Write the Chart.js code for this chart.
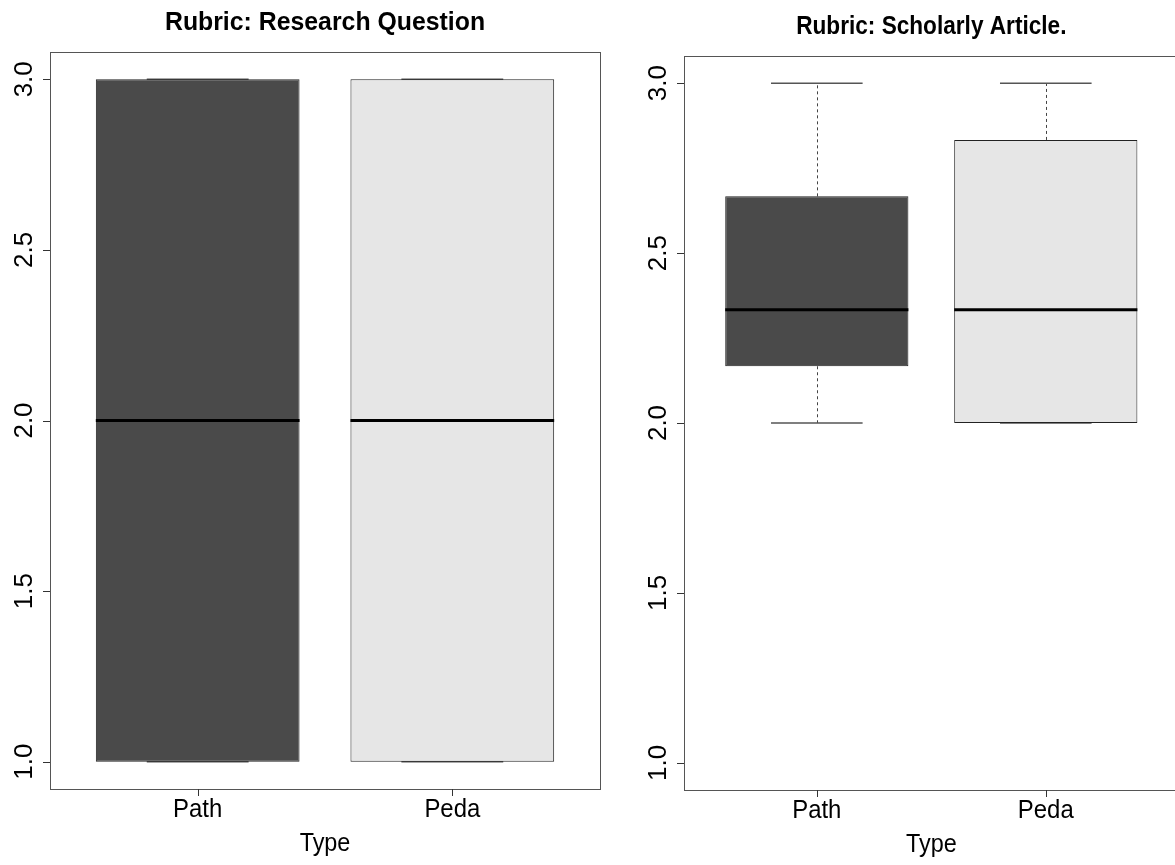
<!DOCTYPE html>
<html><head><meta charset="utf-8">
<script src="https://cdn.jsdelivr.net/npm/chart.js@4.4.0/dist/chart.umd.min.js"></script>
<style>
html,body{margin:0;padding:0;background:#fff;overflow:hidden;width:1175px;height:865px;position:relative;}
#c1{position:absolute;left:0;top:0;}
#c2{position:absolute;left:640px;top:0;}
</style></head><body>
<canvas id="c1" width="640" height="865"></canvas>
<canvas id="c2" width="560" height="865"></canvas>
<script>
// ---- data ----
const categories = ['Path', 'Peda'];
const yTickValues = [1.0, 1.5, 2.0, 2.5, 3.0];
const yTickLabels = ['1.0', '1.5', '2.0', '2.5', '3.0'];

// Rubric: Research Question
const rqMin = [1, 1];
const rqQ1  = [1, 1];
const rqMed = [2, 2];
const rqQ3  = [3, 3];
const rqMax = [3, 3];

// Rubric: Scholarly Article.
const saMin = [2, 2];
const saQ1  = [2.167, 2];
const saMed = [2.333, 2.333];
const saQ3  = [2.667, 2.833];
const saMax = [3, 3];

const boxColors = ['#4a4a4a', '#e6e6e6'];

// ---- helpers ----
function condText(ctx, text, x, y, font, sx) {
  ctx.save();
  ctx.translate(x, y);
  ctx.scale(sx, 1);
  ctx.font = font;
  ctx.fillStyle = '#000';
  ctx.textAlign = 'center';
  ctx.textBaseline = 'alphabetic';
  ctx.fillText(text, 0, 0);
  ctx.restore();
}

function boxGeom(chart, opts, i) {
  const ys = chart.scales.y;
  const bar = chart.getDatasetMeta(0).data[i];
  return {
    cx: bar.x, w: bar.width,
    pMin: ys.getPixelForValue(opts.min[i]),
    pQ1: ys.getPixelForValue(opts.q1[i]),
    pMed: ys.getPixelForValue(opts.med[i]),
    pQ3: ys.getPixelForValue(opts.q3[i]),
    pMax: ys.getPixelForValue(opts.max[i])
  };
}

const rBoxPlugin = {
  id: 'rbox',
  beforeDraw(chart) {
    const ctx = chart.ctx;
    ctx.save();
    ctx.fillStyle = '#fff';
    ctx.fillRect(0, 0, chart.width, chart.height);
    ctx.restore();
  },
  beforeDatasetsDraw(chart, args, opts) {
    const ctx = chart.ctx;
    categories.forEach((c, i) => {
      const g = boxGeom(chart, opts, i);
      ctx.save();
      ctx.strokeStyle = '#444';
      ctx.lineWidth = 1;
      ctx.setLineDash([3, 3]);
      const wx = Math.round(g.cx) + 0.5;
      if (opts.q3[i] < opts.max[i]) {
        ctx.beginPath(); ctx.moveTo(wx, g.pQ3); ctx.lineTo(wx, g.pMax); ctx.stroke();
      }
      if (opts.q1[i] > opts.min[i]) {
        ctx.beginPath(); ctx.moveTo(wx, g.pQ1); ctx.lineTo(wx, g.pMin); ctx.stroke();
      }
      ctx.setLineDash([]);
      ctx.strokeStyle = '#555';
      ctx.lineWidth = 1.5;
      ctx.beginPath();
      ctx.moveTo(g.cx - g.w / 4, g.pMax); ctx.lineTo(g.cx + g.w / 4, g.pMax);
      ctx.moveTo(g.cx - g.w / 4, g.pMin); ctx.lineTo(g.cx + g.w / 4, g.pMin);
      ctx.stroke();
      ctx.restore();
    });
  },
  afterDatasetsDraw(chart, args, opts) {
    const ctx = chart.ctx;
    categories.forEach((c, i) => {
      const g = boxGeom(chart, opts, i);
      ctx.save();
      ctx.strokeStyle = '#000';
      ctx.lineWidth = 3;
      ctx.beginPath();
      ctx.moveTo(g.cx - g.w / 2, g.pMed); ctx.lineTo(g.cx + g.w / 2, g.pMed);
      ctx.stroke();
      ctx.restore();
    });
  },
  afterDraw(chart, args, opts) {
    const ctx = chart.ctx;
    const a = chart.chartArea;
    const ys = chart.scales.y, xs = chart.scales.x;
    ctx.save();
    // frame
    ctx.strokeStyle = '#555';
    ctx.lineWidth = 1;
    ctx.strokeRect(Math.round(a.left) + 0.5, Math.round(a.top) + 0.5,
                   Math.round(a.right - a.left), Math.round(a.bottom - a.top));
    // y ticks
    ctx.strokeStyle = '#333';
    yTickValues.forEach((v, i) => {
      const py = Math.round(ys.getPixelForValue(v)) + 0.5;
      ctx.beginPath(); ctx.moveTo(a.left - 7, py); ctx.lineTo(a.left, py); ctx.stroke();
      ctx.save();
      ctx.translate(a.left - 18, ys.getPixelForValue(v));
      ctx.rotate(-Math.PI / 2);
      ctx.font = '26px "Liberation Sans", Arial, sans-serif';
      ctx.fillStyle = '#000';
      ctx.textAlign = 'center';
      ctx.textBaseline = 'alphabetic';
      ctx.fillText(yTickLabels[i], 0, 0);
      ctx.restore();
    });
    // x ticks
    categories.forEach((c, i) => {
      const px = Math.round(xs.getPixelForValue(i + 1)) + 0.5;
      ctx.beginPath(); ctx.moveTo(px, a.bottom); ctx.lineTo(px, a.bottom + 7); ctx.stroke();
      condText(ctx, c, xs.getPixelForValue(i + 1), a.bottom + 28,
               '26px "Liberation Sans", Arial, sans-serif', 0.92);
    });
    // axis title
    condText(ctx, 'Type', (a.left + a.right) / 2, a.bottom + 62,
             '26px "Liberation Sans", Arial, sans-serif', 0.9);
    // main title
    condText(ctx, opts.title, (a.left + a.right) / 2, a.top - 22,
             'bold 26px "Liberation Sans", Arial, sans-serif', opts.titleScale);
    ctx.restore();
  }
};

function makeChart(id, q1, med, q3, mn, mx, title, titleScale, padding) {
  return new Chart(document.getElementById(id), {
    type: 'bar',
    data: {
      datasets: [{
        data: categories.map((c, i) => ({ x: i + 1, y: [q1[i], q3[i]] })),
        backgroundColor: boxColors,
        borderColor: '#222',
        borderWidth: 1,
        borderSkipped: false,
        categoryPercentage: 1.0,
        barPercentage: 0.8
      }]
    },
    options: {
      responsive: false,
      animation: false,
      devicePixelRatio: 1,
      layout: { padding: padding },
      scales: {
        x: {
          type: 'linear', min: 0.42, max: 2.58, offset: false, display: false,
          afterBuildTicks: s => { s.ticks = categories.map((c, i) => ({ value: i + 1 })); }
        },
        y: {
          type: 'linear', min: 0.92, max: 3.08, beginAtZero: false, display: false
        }
      },
      plugins: {
        legend: { display: false },
        tooltip: { enabled: false },
        title: { display: false },
        rbox: { q1: q1, med: med, q3: q3, min: mn, max: mx, title: title, titleScale: titleScale }
      }
    },
    plugins: [rBoxPlugin]
  });
}

makeChart('c1', rqQ1, rqMed, rqQ3, rqMin, rqMax, 'Rubric: Research Question', 0.955,
          { left: 50, right: 40, top: 52, bottom: 76 });
makeChart('c2', saQ1, saMed, saQ3, saMin, saMax, 'Rubric: Scholarly Article.', 0.87,
          { left: 44, right: 21.4, top: 56, bottom: 75 });
</script>
</body></html>
